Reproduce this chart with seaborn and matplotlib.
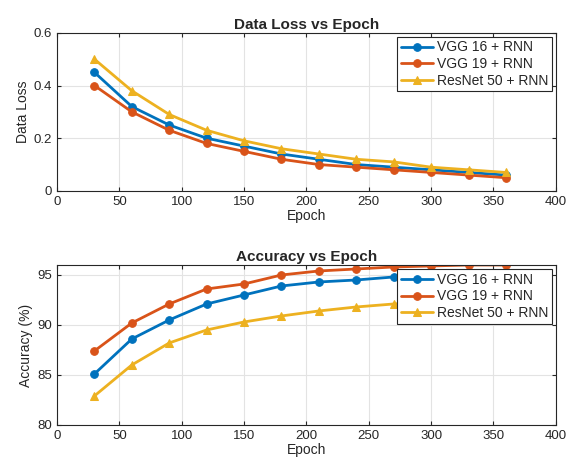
import numpy as np
import pandas as pd
import matplotlib
matplotlib.use("Agg")
import matplotlib.pyplot as plt
import seaborn as sns

# data
epochs = [30, 60, 90, 120, 150, 180, 210, 240, 270, 300, 330, 360]
models = ["VGG 16 + RNN", "VGG 19 + RNN", "ResNet 50 + RNN"]

loss_vgg16 = [0.45, 0.32, 0.25, 0.20, 0.17, 0.14, 0.12, 0.10, 0.09, 0.08, 0.07, 0.06]
loss_vgg19 = [0.40, 0.30, 0.23, 0.18, 0.15, 0.12, 0.10, 0.09, 0.08, 0.07, 0.06, 0.05]
loss_resnet = [0.50, 0.38, 0.29, 0.23, 0.19, 0.16, 0.14, 0.12, 0.11, 0.09, 0.08, 0.07]

acc_vgg16 = [85.1, 88.6, 90.5, 92.1, 93.0, 93.9, 94.3, 94.5, 94.8, 95.0, 95.1, 95.2]
acc_vgg19 = [87.4, 90.2, 92.1, 93.6, 94.1, 95.0, 95.4, 95.6, 95.8, 95.9, 96.0, 96.0]
acc_resnet = [82.9, 86.0, 88.2, 89.5, 90.3, 90.9, 91.4, 91.8, 92.1, 92.3, 92.5, 92.6]

colors = ["#0072BD", "#D95319", "#EDB120"]
markers = ["o", "o", "^"]


def long_form(series):
    rows = []
    for name, vals in zip(models, series):
        for e, v in zip(epochs, vals):
            rows.append({"Epoch": e, "value": v, "model": name})
    return pd.DataFrame(rows)


loss_df = long_form([loss_vgg16, loss_vgg19, loss_resnet])
acc_df = long_form([acc_vgg16, acc_vgg19, acc_resnet])

sns.set_style("ticks")
plt.rcParams["font.family"] = ["Liberation Sans", "DejaVu Sans"]

fig = plt.figure(figsize=(5.72, 4.69), dpi=100)
ax1 = fig.add_axes([0.0997, 0.593, 0.872, 0.337])
ax2 = fig.add_axes([0.0997, 0.094, 0.872, 0.341])

panels = [
    (ax1, loss_df, "Data Loss vs Epoch", "Data Loss", (0, 0.6), [0, 0.2, 0.4, 0.6], ["0", "0.2", "0.4", "0.6"]),
    (ax2, acc_df, "Accuracy vs Epoch", "Accuracy (%)", (80, 96), [80, 85, 90, 95], ["80", "85", "90", "95"]),
]

for ax, df, title, ylabel, ylim, yt, ytl in panels:
    sns.lineplot(data=df, x="Epoch", y="value", hue="model", style="model",
                 hue_order=models, style_order=models, palette=colors,
                 markers=markers, dashes=False, linewidth=2, markersize=5.5,
                 ax=ax)
    # matlab-like markers: edge same colour as the line
    for ln in ax.lines:
        ln.set_markeredgecolor(ln.get_color())
    ax.set_xlim(0, 400)
    ax.set_ylim(*ylim)
    ax.set_xticks(range(0, 401, 50))
    ax.set_yticks(yt)
    ax.set_yticklabels(ytl)
    ax.set_title(title, fontsize=11, fontweight="bold", pad=3)
    ax.set_xlabel("Epoch", fontsize=10, labelpad=1)
    ax.set_ylabel(ylabel, fontsize=10, labelpad=3)
    ax.tick_params(direction="in", labelsize=9.5, length=3, top=True, right=True,
                   color="#262626", labelcolor="#262626")
    ax.grid(True, color="#e3e3e3", linewidth=0.8)
    for s in ax.spines.values():
        s.set_color("#262626")
        s.set_linewidth(0.8)
    leg = ax.legend(loc="upper right", fontsize=10, frameon=True, framealpha=1,
                    fancybox=False, edgecolor="#262626", borderaxespad=0.3,
                    handlelength=2.3, labelspacing=0.2, handletextpad=0.3,
                    borderpad=0.25)
    leg.get_frame().set_linewidth(0.8)
    for ln in leg.get_lines():
        ln.set_markeredgecolor(ln.get_color())
    leg.set_zorder(5)

fig.savefig("out.png", dpi=100)
